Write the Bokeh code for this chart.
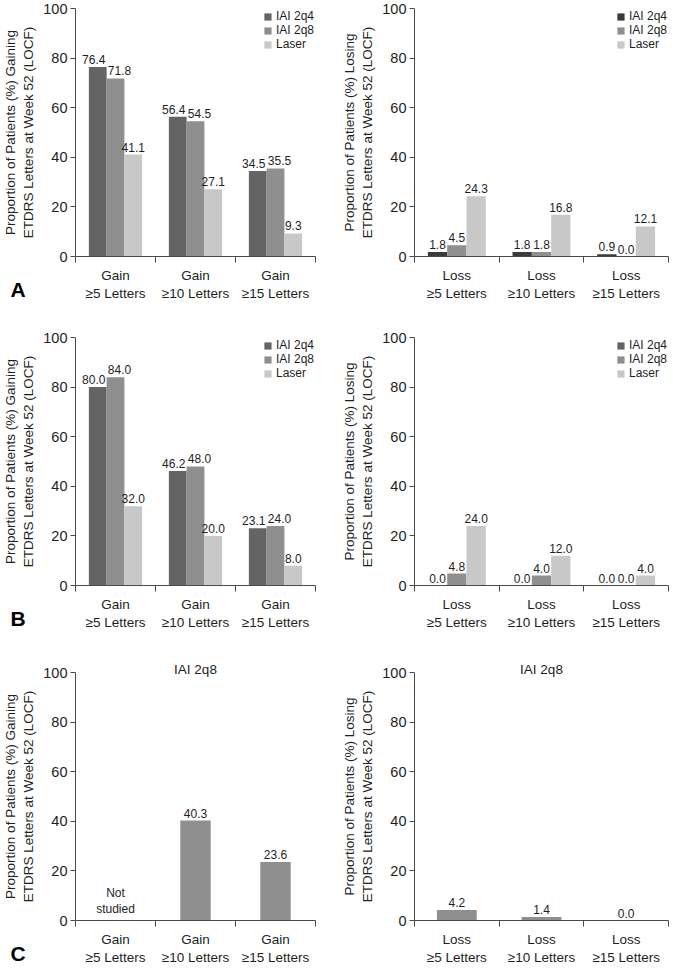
import numpy as np
from bokeh.plotting import figure
from bokeh.models import Range1d, FixedTicker, Label, ColumnDataSource, LinearAxis, Title
from bokeh.layouts import column, row
from bokeh.embed import file_html
from bokeh.resources import INLINE
from bokeh.core.properties import value

FONT = "Liberation Sans"

series_names = ["IAI 2q4", "IAI 2q8", "Laser"]
gain_cats = ["Gain\n\u22655 Letters", "Gain\n\u226510 Letters", "Gain\n\u226515 Letters"]
loss_cats = ["Loss\n\u22655 Letters", "Loss\n\u226510 Letters", "Loss\n\u226515 Letters"]
gain_ylabel = "Proportion of Patients (%) Gaining\nETDRS Letters at Week 52 (LOCF)"
loss_ylabel = "Proportion of Patients (%) Losing\nETDRS Letters at Week 52 (LOCF)"

# Panel A
a_gain_2q4 = [76.4, 56.4, 34.5]
a_gain_2q8 = [71.8, 54.5, 35.5]
a_gain_laser = [41.1, 27.1, 9.3]
a_loss_2q4 = [1.8, 1.8, 0.9]
a_loss_2q8 = [4.5, 1.8, 0.0]
a_loss_laser = [24.3, 16.8, 12.1]
# Panel B
b_gain_2q4 = [80.0, 46.2, 23.1]
b_gain_2q8 = [84.0, 48.0, 24.0]
b_gain_laser = [32.0, 20.0, 8.0]
b_loss_2q4 = [0.0, 0.0, 0.0]
b_loss_2q8 = [4.8, 4.0, 0.0]
b_loss_laser = [24.0, 12.0, 4.0]
# Panel C (IAI 2q8 only)
c_title = "IAI 2q8"
c_gain_2q8 = [None, 40.3, 23.6]
c_gain_note = "Not\nstudied"
c_loss_2q8 = [4.2, 1.4, 0.0]

COL_DARK = "#646464"
COL_DARKER = "#3a3a3a"
COL_MID = "#8f8f8f"
COL_LIGHT = "#c8c8c8"
AX_COL = "#4a4a4a"
TXT = "#1e1e1e"

FH = 248  # frame height


def panel(cats, series, names, colors, ylab, frame_w, bl, br, bt, bb, bar_w,
          letter=None, title=None, note=None):
    n = len(cats)
    p = figure(x_range=Range1d(0, n), y_range=Range1d(0, 100),
               frame_width=frame_w, frame_height=FH,
               min_border_left=bl, min_border_right=br, min_border_top=bt, min_border_bottom=bb,
               output_backend="svg", toolbar_location=None, x_axis_type=None)
    p.outline_line_color = None
    p.grid.visible = False
    p.background_fill_color = "white"
    p.border_fill_color = "white"

    xaxis = LinearAxis(ticker=FixedTicker(ticks=[i + 0.5 for i in range(n)],
                                          minor_ticks=list(range(n + 1))),
                       major_label_overrides={i + 0.5: c for i, c in enumerate(cats)})
    xaxis.major_tick_out = 0
    xaxis.major_tick_in = 0
    xaxis.minor_tick_out = 6
    xaxis.minor_tick_in = 0
    xaxis.minor_tick_line_color = AX_COL
    xaxis.axis_line_color = AX_COL
    xaxis.major_label_standoff = 5
    xaxis.major_label_text_font = FONT
    xaxis.major_label_text_font_size = "13.5px"
    xaxis.major_label_text_color = TXT
    p.add_layout(xaxis, "below")

    ya = p.yaxis[0]
    ya.ticker = FixedTicker(ticks=[0, 20, 40, 60, 80, 100])
    ya.minor_tick_line_color = None
    ya.major_tick_out = 5
    ya.major_tick_in = 0
    ya.major_tick_line_color = AX_COL
    ya.axis_line_color = AX_COL
    ya.major_label_text_font = FONT
    ya.major_label_text_font_size = "14.5px"
    ya.major_label_text_color = TXT
    ya.major_label_standoff = 3
    ya.axis_label = ylab
    ya.axis_label_text_font = FONT
    ya.axis_label_text_font_style = "normal"
    ya.axis_label_text_font_size = "13.5px"
    ya.axis_label_text_color = TXT
    ya.axis_label_standoff = 4

    k = len(series)
    for j, (vals, name, colr) in enumerate(zip(series, names, colors)):
        off = (j - (k - 1) / 2) * bar_w
        xs, ys, ts, nud = [], [], [], []
        for i, v in enumerate(vals):
            if v is None:
                continue
            xs.append(i + 0.5 + off)
            ys.append(v)
            t = f"{v:.1f}"
            ts.append(t)
            d = 0
            if len(t) >= 4:
                if j + 1 < k and series[j + 1][i] is not None and abs(series[j + 1][i] - v) < 6:
                    d -= 4
                if j - 1 >= 0 and series[j - 1][i] is not None and abs(series[j - 1][i] - v) < 6:
                    d += 4
            nud.append(d)
        src = ColumnDataSource(dict(x=xs, y=ys, t=ts, dx=nud))
        kw = dict(legend_label=name) if len(series) > 1 else {}
        p.vbar(x="x", top="y", width=bar_w, source=src, fill_color=colr, line_color=None, **kw)
        p.text(x="x", y="y", text="t", source=src, text_align="center", text_baseline="bottom",
               x_offset="dx", y_offset=-3, text_font=value(FONT), text_font_size="12px",
               text_color=TXT)

    if note is not None:
        for i, v in enumerate(series[0]):
            if v is None:
                p.add_layout(Label(x=i + 0.5, y=0, y_offset=4, text=note, text_align="center",
                                   text_baseline="bottom", text_font=FONT, text_font_size="12px",
                                   text_color=TXT))

    if len(series) > 1:
        lg = p.legend[0]
        lg.location = "top_right"
        lg.border_line_color = None
        lg.background_fill_alpha = 0
        lg.label_text_font = FONT
        lg.label_text_font_size = "12px"
        lg.label_text_color = TXT
        lg.glyph_width = 9
        lg.glyph_height = 9
        lg.label_height = 10
        lg.spacing = 0
        lg.padding = 0
        lg.margin = 1
        lg.label_standoff = 4

    if title is not None:
        t = Title(text=title, align="center", standoff=-9, text_font=FONT,
                  text_font_style="normal", text_font_size="13.5px", text_color=TXT)
        p.add_layout(t, "above")
    if letter is not None:
        # panel letter lives in the right side panel (not clipped), shifted to the far left
        p.add_layout(Label(x=-(frame_w + bl) + 1, y=-33, x_units="screen", y_units="screen",
                           text=letter, text_align="left", text_baseline="middle", text_font=FONT,
                           text_font_style="bold", text_font_size="21px", text_color="black"),
                     "right")
    return p


LW, LBL, LBR = 240, 66, 24
RW, RBL, RBR = 254, 72, 1

pa1 = panel(gain_cats, [a_gain_2q4, a_gain_2q8, a_gain_laser], series_names,
            [COL_DARK, COL_MID, COL_LIGHT], gain_ylabel, LW, LBL, LBR, 8, 45, 0.222, letter="A")
pa2 = panel(loss_cats, [a_loss_2q4, a_loss_2q8, a_loss_laser], series_names,
            [COL_DARKER, COL_MID, COL_LIGHT], loss_ylabel, RW, RBL, RBR, 8, 45, 0.228)
pb1 = panel(gain_cats, [b_gain_2q4, b_gain_2q8, b_gain_laser], series_names,
            [COL_DARK, COL_MID, COL_LIGHT], gain_ylabel, LW, LBL, LBR, 34, 45, 0.222, letter="B")
pb2 = panel(loss_cats, [b_loss_2q4, b_loss_2q8, b_loss_laser], series_names,
            [COL_DARK, COL_MID, COL_LIGHT], loss_ylabel, RW, RBL, RBR, 34, 45, 0.228)
pc1 = panel(gain_cats, [c_gain_2q8], ["IAI 2q8"], [COL_MID], gain_ylabel, LW, LBL, LBR, 40, 46, 0.38,
            letter="C", title=c_title, note=c_gain_note)
pc2 = panel(loss_cats, [c_loss_2q8], ["IAI 2q8"], [COL_MID], loss_ylabel, RW, RBL, RBR, 40, 46, 0.47,
            title=c_title)

layout = column(row(pa1, pa2), row(pb1, pb2), row(pc1, pc2))

with open("out.html", "w") as f:
    f.write(file_html(layout, INLINE))
